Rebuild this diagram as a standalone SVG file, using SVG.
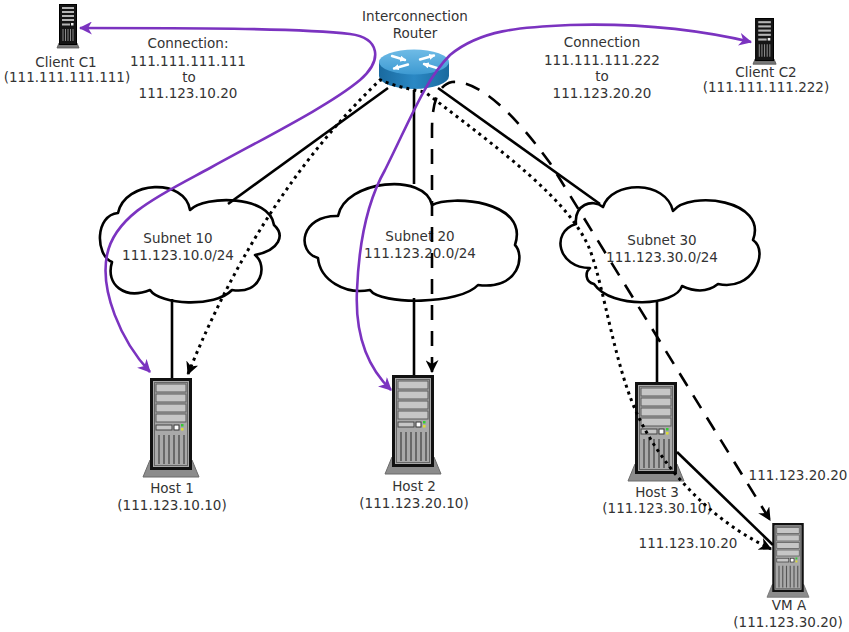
<svg xmlns="http://www.w3.org/2000/svg" xmlns:xlink="http://www.w3.org/1999/xlink" width="849" height="632" viewBox="0 0 849 632">
  <style>
    text { font-family: "DejaVu Sans", "Liberation Sans", sans-serif; font-size: 13.5px; fill: #333; text-anchor: middle; }
    .cloud { fill: #fff; stroke: #000; stroke-width: 2.6; stroke-linejoin: round; }
    .link { fill: none; stroke: #000; stroke-width: 2.6; }
    .dotted { fill: none; stroke: #000; stroke-width: 3; stroke-dasharray: 3 4.2; marker-start: url(#ahB); marker-end: url(#ahB); }
    .dashed { fill: none; stroke: #000; stroke-width: 2.6; stroke-dasharray: 15 11; marker-start: url(#ahB); marker-end: url(#ahB); }
    .flow { fill: none; stroke: #7b33c0; stroke-width: 2.6; marker-start: url(#ahP); marker-end: url(#ahP); }
  </style>
  <defs>
    <marker id="ahB" viewBox="0 0 12 12" refX="11" refY="6" markerWidth="13" markerHeight="13" markerUnits="userSpaceOnUse" orient="auto-start-reverse">
      <path d="M0,0 L12,6 L0,12 L3.5,6 Z" fill="#000"/>
    </marker>
    <marker id="ahP" viewBox="0 0 12 12" refX="11" refY="6" markerWidth="13" markerHeight="13" markerUnits="userSpaceOnUse" orient="auto-start-reverse">
      <path d="M0,0 L12,6 L0,12 L3.5,6 Z" fill="#7b33c0"/>
    </marker>
    <marker id="ahW" viewBox="0 0 10 10" refX="8" refY="5" markerWidth="6" markerHeight="6" markerUnits="userSpaceOnUse" orient="auto">
      <path d="M0,0 L10,5 L0,10 Z" fill="#fff"/>
    </marker>
    <linearGradient id="routerSide" x1="0" y1="0" x2="1" y2="0">
      <stop offset="0" stop-color="#1a6a9f"/>
      <stop offset="0.5" stop-color="#2a88c4"/>
      <stop offset="1" stop-color="#1a6a9f"/>
    </linearGradient>
    <linearGradient id="routerTop" x1="0" y1="0" x2="0" y2="1">
      <stop offset="0" stop-color="#6fbbe6"/>
      <stop offset="1" stop-color="#3d9ad2"/>
    </linearGradient>
    <!-- tower server, 56 x 100 -->
    <g id="srv">
      <polygon points="7,82 49,82 56,99 0,99" fill="#8c8c8c" stroke="#6b6b6b" stroke-width="1"/>
      <rect x="8.5" y="1.5" width="39" height="89" fill="#a9a9a9" stroke="#111" stroke-width="3"/>
      <rect x="11.5" y="4.5" width="33" height="83" fill="none" stroke="#666" stroke-width="1"/>
      <rect x="13" y="6" width="30" height="8" fill="#c6c6c6" stroke="#5a5a5a" stroke-width="1"/>
      <rect x="13" y="16" width="30" height="8" fill="#c6c6c6" stroke="#5a5a5a" stroke-width="1"/>
      <rect x="13" y="26" width="30" height="8" fill="#c6c6c6" stroke="#5a5a5a" stroke-width="1"/>
      <rect x="13" y="36" width="30" height="8" fill="#c6c6c6" stroke="#5a5a5a" stroke-width="1"/>
      <rect x="13" y="47" width="16" height="5" fill="#c6c6c6" stroke="#444" stroke-width="1"/>
      <rect x="31" y="47" width="5" height="5" fill="#fff" stroke="#333" stroke-width="1"/>
      <rect x="38" y="46" width="2.5" height="2.5" fill="#3c3"/>
      <rect x="38" y="50" width="2.5" height="2.5" fill="#dd3"/>
      <g stroke="#555" stroke-width="1.5">
        <line x1="16" y1="57" x2="16" y2="86"/>
        <line x1="21" y1="57" x2="21" y2="86"/>
        <line x1="26" y1="57" x2="26" y2="86"/>
        <line x1="31" y1="57" x2="31" y2="86"/>
        <line x1="36" y1="57" x2="36" y2="86"/>
        <line x1="41" y1="57" x2="41" y2="86"/>
      </g>
    </g>
    <!-- small dark client box, 22 x 44 -->
    <g id="cli">
      <polygon points="2,39 20,39 22,44 0,44" fill="#777" stroke="#555" stroke-width="0.8"/>
      <rect x="2.5" y="0.5" width="17" height="40" fill="#151515" stroke="#000" stroke-width="1"/>
      <g fill="#b5b5b5">
        <rect x="5" y="3" width="12" height="2"/>
        <rect x="5" y="7" width="12" height="2"/>
        <rect x="5" y="11" width="12" height="2"/>
        <rect x="5" y="15" width="12" height="2"/>
        <rect x="5" y="19.5" width="8" height="2"/>
        <rect x="14" y="19" width="2.5" height="2.5" fill="#eee"/>
      </g>
      <g stroke="#8a8a8a" stroke-width="1">
        <line x1="6" y1="25" x2="6" y2="37"/>
        <line x1="8.5" y1="25" x2="8.5" y2="37"/>
        <line x1="11" y1="25" x2="11" y2="37"/>
        <line x1="13.5" y1="25" x2="13.5" y2="37"/>
        <line x1="16" y1="25" x2="16" y2="37"/>
      </g>
    </g>
  </defs>

  <rect width="849" height="632" fill="#fff"/>

  <!-- subnets -->
  <g id="subnet10">
    <path class="cloud" d="M112,262 C95,255 95,215 118,213 C125,180 185,178 190,210 C205,195 270,195 274,225 C285,235 280,250 255,255 C268,265 262,295 232,290 C215,308 160,305 150,290 C125,300 105,285 112,262 Z"/>
    <text x="178" y="243">Subnet 10</text>
    <text x="178" y="260">111.123.10.0/24</text>
  </g>
  <g id="subnet20">
    <path class="cloud" d="M318,258 C296,252 300,215 338,216 C345,180 425,172 432,205 C450,195 530,200 515,245 C525,255 520,290 478,285 C460,305 380,305 370,290 C345,295 320,280 318,258 Z"/>
    <text x="420" y="241">Subnet 20</text>
    <text x="420" y="258">111.123.20.0/24</text>
  </g>
  <g id="subnet30">
    <path class="cloud" d="M590,268 C558,268 550,232 576,224 C574,205 592,198 603,207 C612,180 666,180 673,211 C690,190 768,200 753,240 C770,252 752,292 718,284 C708,292 695,292 682,286 C676,306 612,310 594,284 C585,282 585,272 590,268 Z"/>
    <text x="662" y="245">Subnet 30</text>
    <text x="662" y="262">111.123.30.0/24</text>
  </g>

  <!-- router -->
  <g id="router">
    <text x="415" y="21">Interconnection</text>
    <text x="415" y="38">Router</text>
    <path d="M379,62 L379,76 A35,13 0 0 0 449,76 L449,62 Z" fill="url(#routerSide)"/>
    <ellipse cx="414" cy="62" rx="35" ry="12.5" fill="url(#routerTop)"/>
    <g stroke="#fff" stroke-width="2.4" stroke-linecap="round">
      <line x1="392" y1="56" x2="405" y2="60" marker-end="url(#ahW)"/>
      <line x1="437" y1="68" x2="424" y2="64" marker-end="url(#ahW)"/>
      <line x1="420" y1="59.5" x2="434" y2="55.5" marker-end="url(#ahW)"/>
      <line x1="408" y1="64.5" x2="394" y2="68.5" marker-end="url(#ahW)"/>
    </g>
  </g>

  <!-- clients -->
  <g id="clientC1">
    <use xlink:href="#cli" href="#cli" transform="translate(57,4)"/>
    <text x="66" y="67">Client C1</text>
    <text x="67" y="82">(111.111.111.111)</text>
  </g>
  <g id="clientC2">
    <use xlink:href="#cli" href="#cli" transform="translate(753,18) scale(1.05)"/>
    <text x="766" y="77">Client C2</text>
    <text x="766" y="92">(111.111.111.222)</text>
  </g>

  <!-- hosts -->
  <g id="host1">
    <use xlink:href="#srv" href="#srv" transform="translate(143,378)"/>
    <text x="172" y="493">Host 1</text>
    <text x="172" y="510">(111.123.10.10)</text>
  </g>
  <g id="host2">
    <use xlink:href="#srv" href="#srv" transform="translate(385,375)"/>
    <text x="414" y="491">Host 2</text>
    <text x="414" y="508">(111.123.20.10)</text>
  </g>
  <g id="host3">
    <use xlink:href="#srv" href="#srv" transform="translate(628,382)"/>
    <text x="657" y="497">Host 3</text>
    <text x="657" y="513">(111.123.30.10)</text>
  </g>
  <g id="vmA">
    <use xlink:href="#srv" href="#srv" transform="translate(767,523) scale(0.75)"/>
    <text x="789" y="610">VM A</text>
    <text x="788" y="627">(111.123.30.20)</text>
  </g>

  <!-- connection labels -->
  <g id="labels">
    <text x="188" y="48">Connection:</text>
    <text x="188" y="66">111.111.111.111</text>
    <text x="189" y="82">to</text>
    <text x="188" y="98">111.123.10.20</text>
    <text x="602" y="47">Connection</text>
    <text x="602" y="65">111.111.111.222</text>
    <text x="602" y="81">to</text>
    <text x="602" y="98">111.123.20.20</text>
    <text x="798" y="480">111.123.20.20</text>
    <text x="688" y="548">111.123.10.20</text>
  </g>

  <!-- connectors -->
  <g id="connectors">
    <line class="link" x1="388" y1="88" x2="228" y2="204"/>
    <line class="link" x1="414" y1="90" x2="414" y2="184"/>
    <line class="link" x1="438" y1="88" x2="600" y2="204"/>
    <line class="link" x1="172" y1="299" x2="172" y2="378"/>
    <line class="link" x1="414" y1="298" x2="414" y2="375"/>
    <line class="link" x1="657" y1="302" x2="657" y2="382"/>
    <line class="link" x1="677" y1="452" x2="773" y2="545"/>

    <path class="dotted" d="M188,374 Q260,195 380,80 Q400,88 425,92 C500,150 570,200 590,250 C605,290 615,370 640,420 C665,470 710,520 771,549"/>
    <path class="dashed" d="M432,372 L432,130 C432,105 437,85 452,82 C480,80 515,115 550,163 L770,520"/>

    <path class="flow" d="M150,372 C120,340 100,290 107,255 C115,215 160,195 210,168 C270,135 330,105 360,80 C383,60 380,38 350,34 C300,28 180,28 80,28"/>
    <path class="flow" d="M391,390 C365,365 355,330 357,290 C359,240 368,200 385,170 C410,120 425,80 450,55 C480,30 520,27 570,25 C640,23 700,30 751,42"/>
  </g>
</svg>
